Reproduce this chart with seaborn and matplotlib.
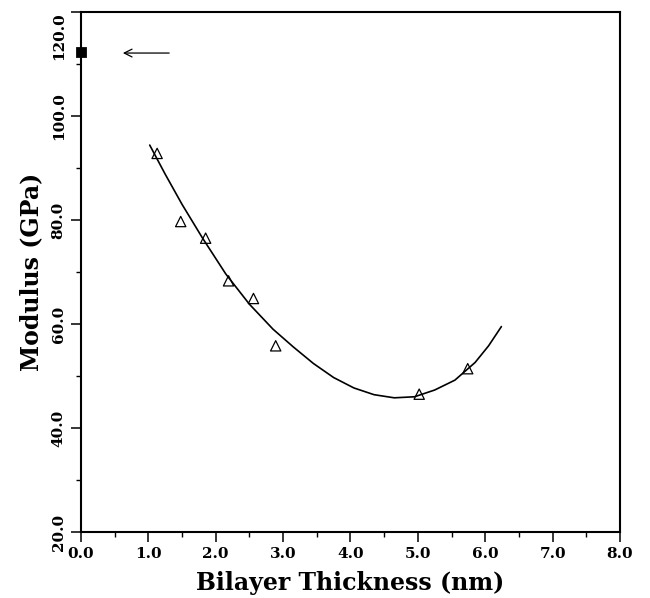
import pandas as pd
import matplotlib.pyplot as plt
import seaborn as sns
from matplotlib.ticker import MultipleLocator

# measured points (open triangles)
thickness = [1.13, 1.48, 1.85, 2.19, 2.56, 2.89, 5.02, 5.74]
modulus = [92.8, 79.7, 76.5, 68.3, 64.9, 55.8, 46.5, 51.4]

# reference point at zero thickness (filled square)
ref_x = [0.0]
ref_y = [112.3]

# fitted curve
curve_x = [1.02, 1.25, 1.50, 1.80, 2.15, 2.50, 2.85, 3.15, 3.45, 3.75,
           4.05, 4.35, 4.65, 4.95, 5.25, 5.55, 5.85, 6.05, 6.24]
curve_y = [94.4, 88.8, 83.0, 76.6, 69.6, 63.8, 59.0, 55.6, 52.4, 49.7,
           47.7, 46.4, 45.8, 46.0, 47.3, 49.2, 52.6, 55.8, 59.5]

# arrow pointing at the reference point
arrow_tail = (1.35, 112.1)
arrow_head = (0.58, 112.1)

x_ticks = [0, 1, 2, 3, 4, 5, 6, 7, 8]
y_ticks = [20, 40, 60, 80, 100, 120]

sns.set_style('ticks')
plt.rcParams['font.family'] = ['DejaVu Serif']
plt.rcParams['font.weight'] = 'bold'
plt.rcParams['text.color'] = 'black'
plt.rcParams['axes.labelcolor'] = 'black'
plt.rcParams['xtick.color'] = 'black'
plt.rcParams['ytick.color'] = 'black'
plt.rcParams['axes.edgecolor'] = 'black'

df_pts = pd.DataFrame({'x': thickness, 'y': modulus})
df_curve = pd.DataFrame({'x': curve_x, 'y': curve_y})
df_ref = pd.DataFrame({'x': ref_x, 'y': ref_y})

fig = plt.figure(figsize=(6.5, 5.98), dpi=100)
ax = fig.add_axes([0.1246, 0.1104, 0.8292, 0.8696])

sns.lineplot(x='x', y='y', data=df_curve, color='black', linewidth=1.2,
             sort=False, ax=ax)
sns.scatterplot(x='x', y='y', data=df_pts, marker='^', s=55,
                facecolor='none', edgecolor='black', linewidth=0.9, ax=ax)
sns.scatterplot(x='x', y='y', data=df_ref, marker='s', s=50,
                color='black', edgecolor='black', ax=ax, clip_on=False, zorder=5)

ax.annotate('', xy=arrow_head, xytext=arrow_tail,
            arrowprops=dict(arrowstyle='->', color='black', lw=0.9,
                            mutation_scale=14))

ax.set_xlim(0, 8)
ax.set_ylim(20, 120)
ax.set_xticks(x_ticks)
ax.set_xticklabels(['%.1f' % v for v in x_ticks], fontweight='bold')
ax.set_yticks(y_ticks)
ylabs = ax.set_yticklabels(['%.1f' % v for v in y_ticks], fontweight='bold',
                           rotation=90, va='center')
# top label sits below its tick so it stays inside the figure
ylabs[-1].set_va('top')
ax.xaxis.set_minor_locator(MultipleLocator(0.5))
ax.yaxis.set_minor_locator(MultipleLocator(10))

ax.tick_params(which='major', direction='out', length=7, width=1.1,
               labelsize=11, pad=4, top=False, right=False)
ax.tick_params(which='minor', direction='out', length=3.5, width=1.0,
               top=False, right=False)

for sp in ax.spines.values():
    sp.set_visible(True)
    sp.set_linewidth(1.5)

ax.set_xlabel('Bilayer Thickness (nm)', fontsize=17, fontweight='bold', labelpad=7)
ax.set_ylabel('Modulus (GPa)', fontsize=17, fontweight='bold', labelpad=6)

fig.savefig('out.png', dpi=100)
